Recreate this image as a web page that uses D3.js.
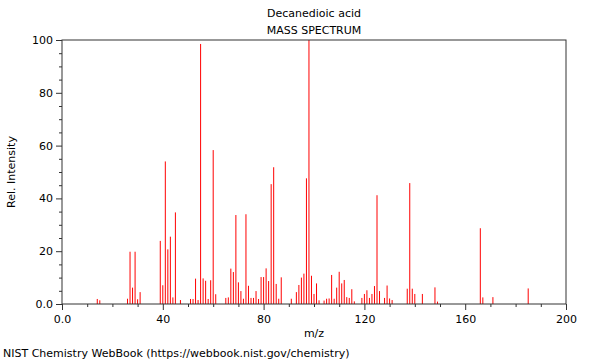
<!DOCTYPE html>
<html><head><meta charset="utf-8">
<script src="https://cdn.jsdelivr.net/npm/d3@7/dist/d3.min.js"></script>
<style>body{margin:0;background:#fff}svg{display:block}text{font-family:"DejaVu Sans",sans-serif;font-size:11px;fill:#000}</style>
</head><body><svg id="c" width="600" height="360"></svg>
<script>
const title = "Decanedioic acid";
const subtitle = "MASS SPECTRUM";
const mz = [14,15,26,27,28,29,30,31,39,40,41,42,43,44,45,47,51,52,53,54,55,56,57,58,59,60,61,65,66,67,68,69,70,71,72,73,74,75,76,77,78,79,80,81,82,83,84,85,86,87,91,93,94,95,96,97,98,99,100,101,102,104,105,106,107,108,109,110,111,112,113,114,115,116,119,120,121,122,123,124,125,126,128,129,130,131,137,138,139,140,143,148,149,166,167,171,185];
const intensity = [1.9,1.4,2,19.8,6.2,19.8,1.8,4.5,23.9,7.1,54,20.7,25.5,2.5,34.7,1.5,1.9,1.9,9.6,1.5,98.5,9.7,8.8,1.9,9.0,58.3,3.7,2.3,2.5,13.4,12.1,33.7,8.2,4.9,2,34,6.9,2.3,2.3,4.9,1.9,10.2,10.2,13.5,8.7,45.4,51.8,7.6,2,10.1,2,4.5,7.2,10,11.5,47.6,100,10.7,3.8,7.8,1.4,1.3,2,2.1,11,2,6.2,12.2,7.8,9.1,2.6,2.3,5.6,1,2.3,3.8,5.2,2.3,3.8,6.8,41.2,4.9,2.3,7,2.1,1.5,5.8,45.8,5.8,3.8,3.8,6.3,0.9,28.7,2.5,2.6,5.9];
const xTicks = [0,40,80,120,160,200];
const xMinor = [10,20,30,50,60,70,90,100,110,130,140,150,170,180,190];
const yTicks = [0,20,40,60,80,100];
const yMinor = [5,10,15,25,30,35,45,50,55,65,70,75,85,90,95];

const svg = d3.select("#c");
const L=62,R=566,T=40,B=304;
const x = d3.scaleLinear().domain([0,200]).range([L,R]);
const y = d3.scaleLinear().domain([0,100]).range([B,T]);

// bars
svg.append("g").selectAll("line").data(mz.map((m,i)=>({m,v:intensity[i]}))).join("line")
  .attr("x1",d=>x(d.m)).attr("x2",d=>x(d.m))
  .attr("y1",y(0)).attr("y2",d=>y(d.v))
  .attr("stroke","#ff0000").attr("stroke-width",1);

// frame
svg.append("rect").attr("x",L).attr("y",T).attr("width",R-L).attr("height",B-T)
  .attr("fill","none").attr("stroke","#333").attr("stroke-width",1);

const fmt = d => d===0 ? "0.0" : String(d);
const gx = svg.append("g").attr("transform",`translate(0,${B})`)
  .call(d3.axisBottom(x).tickValues(xTicks).tickFormat(fmt).tickSize(6).tickPadding(5));
const gxm = svg.append("g").attr("transform",`translate(0,${B})`)
  .call(d3.axisBottom(x).tickValues(xMinor).tickFormat("").tickSize(3));
const gy = svg.append("g").attr("transform",`translate(${L},0)`)
  .call(d3.axisLeft(y).tickValues(yTicks).tickFormat(fmt).tickSize(6).tickPadding(3));
const gym = svg.append("g").attr("transform",`translate(${L},0)`)
  .call(d3.axisLeft(y).tickValues(yMinor).tickFormat("").tickSize(3));
[gx,gxm,gy,gym].forEach(g=>{
  g.select(".domain").remove();
  g.selectAll("line").attr("stroke","#333");
  g.selectAll("text").attr("font-family","DejaVu Sans").attr("font-size",11).attr("fill","#000");
});

svg.append("text").attr("x",314).attr("y",17).attr("text-anchor","middle").text(title);
svg.append("text").attr("x",314).attr("y",34).attr("text-anchor","middle").text(subtitle);
svg.append("text").attr("x",314).attr("y",337).attr("text-anchor","middle").text("m/z");
svg.append("text").attr("transform","translate(15,172) rotate(-90)").attr("text-anchor","middle").text("Rel. Intensity");
svg.append("text").attr("x",3).attr("y",357).text("NIST Chemistry WebBook (https://webbook.nist.gov/chemistry)");
</script></body></html>
